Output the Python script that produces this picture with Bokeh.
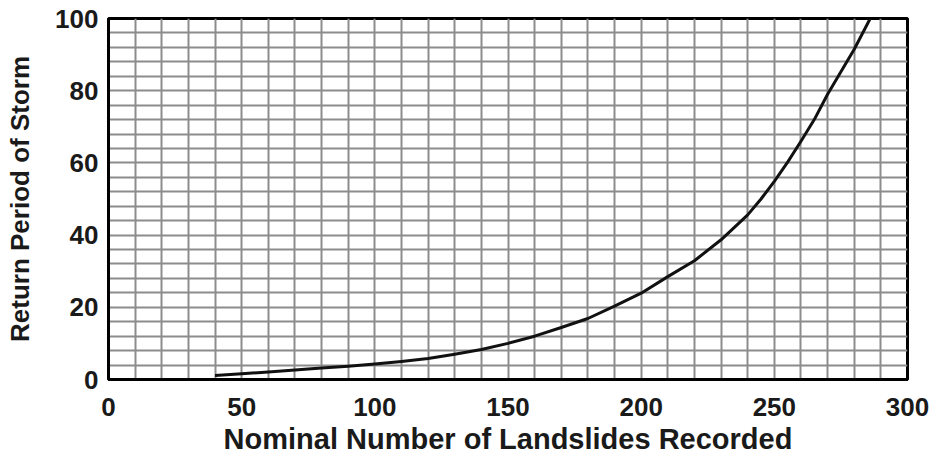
from bokeh.plotting import figure
from bokeh.models import Range1d, SingleIntervalTicker, ColumnDataSource
from bokeh.embed import file_html
from bokeh.resources import INLINE

# Data
landslides = [40, 50, 60, 70, 80, 90, 100, 110, 120, 130, 140, 150, 160, 170,
              180, 190, 200, 210, 220, 230, 240, 245, 250, 255, 260, 265, 270, 280, 286]
return_period = [1.1, 1.6, 2.1, 2.6, 3.2, 3.7, 4.3, 5.0, 5.8, 7.0, 8.3, 10.0, 12.0, 14.4,
                 16.9, 20.3, 23.9, 28.5, 32.9, 38.7, 45.6, 50.0, 54.9, 60.2, 66.0, 72.0, 79.0, 91.5, 100.0]

x_label = "Nominal Number of Landslides Recorded"
y_label = "Return Period of Storm"

FONT = "Liberation Sans"
TXT = "#1a1a1a"

p = figure(width=944, height=467, output_backend="svg", toolbar_location=None,
           x_range=Range1d(0, 300), y_range=Range1d(0, 100))
p.min_border_left = 108
p.min_border_right = 37
p.min_border_top = 18
p.min_border_bottom = 88
p.background_fill_color = "white"
p.border_fill_color = "white"
p.outline_line_color = "black"
p.outline_line_width = 3

src = ColumnDataSource(dict(x=landslides, y=return_period))
p.line("x", "y", source=src, line_color="#111111", line_width=3, line_join="round")

# grids
p.xgrid.ticker = SingleIntervalTicker(interval=10)
p.ygrid.ticker = SingleIntervalTicker(interval=4)
for g in (p.xgrid, p.ygrid):
    g.grid_line_color = "#8c8c8c"
    g.grid_line_width = 2
    g.grid_line_alpha = 1.0

p.xaxis.ticker = SingleIntervalTicker(interval=50)
p.yaxis.ticker = SingleIntervalTicker(interval=20)

for ax in (p.xaxis[0], p.yaxis[0]):
    ax.axis_line_color = "black"
    ax.axis_line_width = 3
    ax.major_tick_line_color = None
    ax.minor_tick_line_color = None
    ax.major_label_text_font = FONT
    ax.major_label_text_font_style = "bold"
    ax.major_label_text_font_size = "26px"
    ax.major_label_text_color = TXT
    ax.axis_label_text_font = FONT
    ax.axis_label_text_font_style = "bold"
    ax.axis_label_text_color = TXT

p.xaxis.axis_label = x_label
p.yaxis.axis_label = y_label
p.xaxis.axis_label_text_font_size = "29px"
p.yaxis.axis_label_text_font_size = "26px"
p.xaxis.major_label_standoff = 12
p.yaxis.major_label_standoff = 4
p.xaxis.axis_label_standoff = 4
p.yaxis.axis_label_standoff = 17

open("out.html", "w").write(file_html(p, INLINE))
